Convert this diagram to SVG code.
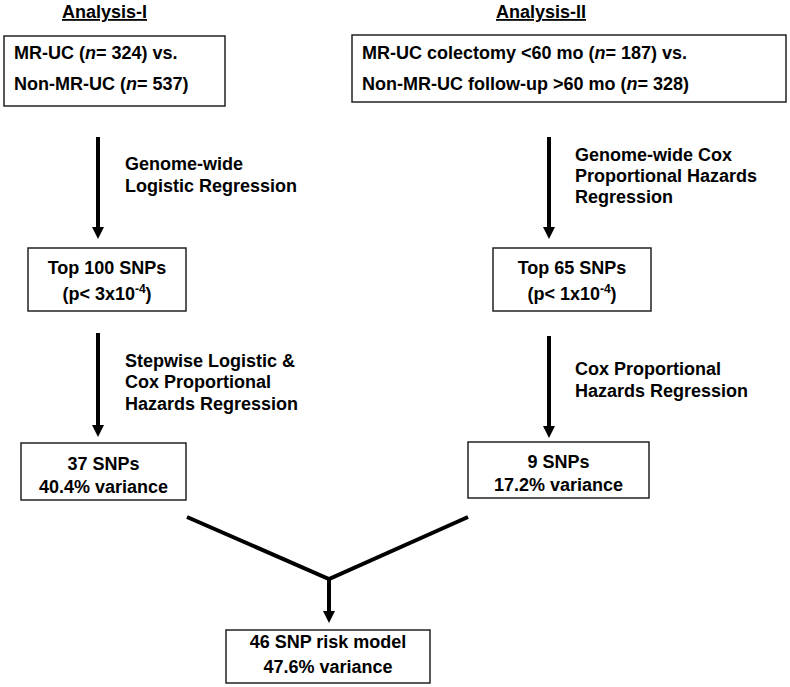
<svg xmlns="http://www.w3.org/2000/svg" width="790" height="687" viewBox="0 0 790 687">
<defs>
<marker id="ah" markerUnits="userSpaceOnUse" markerWidth="12" markerHeight="12" viewBox="0 0 12 12" refX="0" refY="6" orient="auto">
<path d="M0,0 L12,6 L0,12 z" fill="#000"/>
</marker>
<style>
text{font-family:"Liberation Sans",Arial,sans-serif;font-weight:bold;font-size:18px;fill:#000}
.box{fill:#fff;stroke:#222;stroke-width:1.5}
.c{text-anchor:middle}
.conn{stroke:#000;stroke-width:4;fill:none}
.arr{stroke:#000;stroke-width:4;fill:none;marker-end:url(#ah)}
.it{font-style:italic}
</style>
</defs>
<rect width="790" height="687" fill="#fff"/>

<g id="title1"><text x="104.5" y="18" class="c" text-decoration="underline">Analysis-I</text></g>
<g id="title2"><text x="541" y="18" class="c" text-decoration="underline">Analysis-II</text></g>

<g id="n1">
<rect class="box" x="4" y="36" width="221" height="70"/>
<text x="14" y="59">MR-UC (<tspan class="it">n</tspan>= 324) vs.</text>
<text x="14" y="90">Non-MR-UC (<tspan class="it">n</tspan>= 537)</text>
</g>
<g id="n2">
<rect class="box" x="352" y="35" width="434" height="67"/>
<text x="362" y="59">MR-UC colectomy &lt;60 mo (<tspan class="it">n</tspan>= 187) vs.</text>
<text x="362" y="90">Non-MR-UC follow-up &gt;60 mo (<tspan class="it">n</tspan>= 328)</text>
</g>
<g id="n3">
<rect class="box" x="28" y="248" width="158" height="63"/>
<text x="107" y="274" class="c">Top 100 SNPs</text>
<text x="107" y="300" class="c">(p&lt; 3x10<tspan font-size="12" dy="-7">-4</tspan><tspan dy="7">)</tspan></text>
</g>
<g id="n4">
<rect class="box" x="493" y="248" width="158" height="63"/>
<text x="572" y="274" class="c">Top 65 SNPs</text>
<text x="572" y="300" class="c">(p&lt; 1x10<tspan font-size="12" dy="-7">-4</tspan><tspan dy="7">)</tspan></text>
</g>
<g id="n5">
<rect class="box" x="21" y="443" width="165" height="57"/>
<text x="103.5" y="470" class="c">37 SNPs</text>
<text x="103.5" y="493" class="c">40.4% variance</text>
</g>
<g id="n6">
<rect class="box" x="468" y="442" width="181" height="56"/>
<text x="558.5" y="468" class="c">9 SNPs</text>
<text x="558.5" y="491" class="c">17.2% variance</text>
</g>
<g id="n7">
<rect class="box" x="226" y="630" width="204" height="53"/>
<text x="328" y="648" class="c">46 SNP risk model</text>
<text x="328" y="673" class="c">47.6% variance</text>
</g>

<g id="connectors">
<line class="arr" x1="98" y1="137" x2="98" y2="227"/>
<line class="arr" x1="549" y1="137" x2="549" y2="227"/>
<line class="arr" x1="98" y1="333" x2="98" y2="425"/>
<line class="arr" x1="549" y1="336" x2="549" y2="426"/>
<polyline class="conn" points="187,517 329,579 468,517"/>
<line class="arr" x1="329" y1="578" x2="329" y2="611"/>
</g>

<g id="labels">
<text x="125" y="170">Genome-wide</text>
<text x="125" y="192">Logistic Regression</text>
<text x="575" y="161">Genome-wide Cox</text>
<text x="575" y="182">Proportional Hazards</text>
<text x="575" y="203">Regression</text>
<text x="125" y="367">Stepwise Logistic &amp;</text>
<text x="125" y="388">Cox Proportional</text>
<text x="125" y="410">Hazards Regression</text>
<text x="575" y="375">Cox Proportional</text>
<text x="575" y="397">Hazards Regression</text>
</g>
</svg>
